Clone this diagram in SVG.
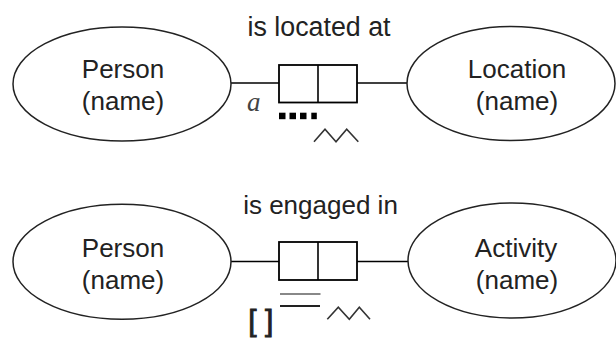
<svg xmlns="http://www.w3.org/2000/svg" width="616" height="338" viewBox="0 0 616 338">
<style>
.ell{fill:#fff;stroke:#222;stroke-width:1.5}
.lbl{font-family:"Liberation Sans",Arial,sans-serif;font-size:26px;fill:#222;text-anchor:middle}
.ln{stroke:#000;stroke-width:1.6;fill:none}
.box{fill:#fff;stroke:#000;stroke-width:1.8}
.zz{fill:none;stroke:#333;stroke-width:1.6}
</style>
<rect width="616" height="338" fill="#fff"/>
<g id="connectors">
<line class="ln" x1="231" y1="83" x2="279" y2="83"/>
<line class="ln" x1="357" y1="83" x2="407" y2="83"/>
<line class="ln" x1="231" y1="261.5" x2="279" y2="261.5"/>
<line class="ln" x1="357" y1="261.5" x2="408" y2="261.5"/>
</g>
<g id="person1">
<ellipse class="ell" cx="122" cy="84" rx="109" ry="57"/>
<text class="lbl" x="123" y="78">Person</text>
<text class="lbl" x="123" y="110">(name)</text>
</g>
<g id="location">
<ellipse class="ell" cx="511" cy="83.5" rx="104" ry="57"/>
<text class="lbl" x="517" y="78">Location</text>
<text class="lbl" x="517" y="110">(name)</text>
</g>
<g id="fact1">
<rect class="box" x="279" y="65" width="78" height="37.5"/>
<line class="ln" x1="318" y1="65" x2="318" y2="102.5"/>
<text class="lbl" x="319" y="36" style="font-size:26.8px">is located at</text>
<text x="247" y="111" style="font-family:'Liberation Serif','Times New Roman',serif;font-style:italic;font-size:27px;fill:#444">a</text>
<g fill="#000">
<rect x="279" y="112.7" width="6.5" height="6.5"/>
<rect x="289.5" y="112.7" width="6.5" height="6.5"/>
<rect x="300" y="112.7" width="6.5" height="6.5"/>
<rect x="311.3" y="112.7" width="5.5" height="6.5"/>
</g>
<polyline class="zz" points="314,141.7 325,129.3 336,141.7 346.7,129.3 358.3,141.7"/>
</g>
<g id="person2">
<ellipse class="ell" cx="122" cy="261.7" rx="109" ry="57.5"/>
<text class="lbl" x="123" y="257">Person</text>
<text class="lbl" x="123" y="288.5">(name)</text>
</g>
<g id="activity">
<ellipse class="ell" cx="512" cy="260.5" rx="104" ry="57.5"/>
<text class="lbl" x="516" y="257">Activity</text>
<text class="lbl" x="517" y="288.5">(name)</text>
</g>
<g id="fact2">
<rect class="box" x="279" y="242" width="78" height="38"/>
<line class="ln" x1="318" y1="242" x2="318" y2="280"/>
<text class="lbl" x="320.5" y="214">is engaged in</text>
<line x1="280" y1="294" x2="320.5" y2="294" stroke="#888" stroke-width="1.8"/>
<line x1="280" y1="306" x2="320" y2="306" stroke="#222" stroke-width="1.8"/>
<text x="260.8" y="330.5" stroke="#222" stroke-width="0.9" style="font-family:'Liberation Sans',Arial,sans-serif;font-size:30px;fill:#222;text-anchor:middle">[ ]</text>
<polyline class="zz" points="327.3,319.3 338.3,307.3 349.3,319.3 359.3,307.3 370,319.3"/>
</g>
</svg>
